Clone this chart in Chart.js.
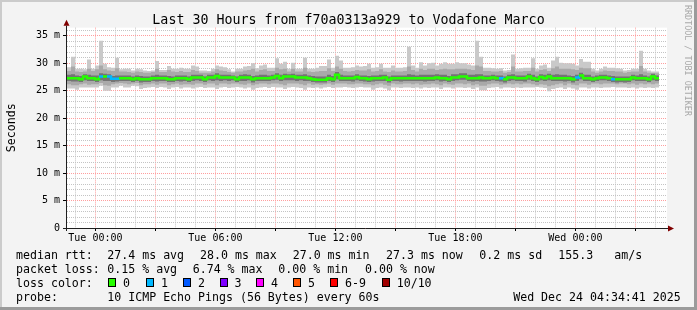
<!DOCTYPE html>
<html>
<head>
<meta charset="utf-8">
<script src="https://cdn.jsdelivr.net/npm/chart.js@4"></script>
<style>
  html, body { margin: 0; padding: 0; background: #f3f3f3; }
</style>
</head>
<body>
<canvas id="smoke" width="697" height="310"></canvas>
<script>
// time axis: hours relative to Tue 00:00, one sample every 12 minutes
const startHour = -1.42;
const stepHours = 0.2;
const spanHours = 30;

const tickHours = [0, 6, 12, 18, 24];
const tickLabels = ['Tue 00:00', 'Tue 06:00', 'Tue 12:00', 'Tue 18:00', 'Wed 00:00'];

// smoke: highest ping per step (ms)
const pingMax = [
  29.3, 31.2, 29.0, 29.0, 28.9, 30.7, 29.0, 29.6, 34.1, 29.9,
  29.3, 29.2, 31.0, 28.9, 29.0, 29.0, 28.7, 29.0, 28.9, 28.7,
  28.6, 28.7, 30.4, 28.8, 28.8, 29.5, 29.0, 29.0, 29.2, 29.0,
  29.0, 29.6, 29.4, 28.7, 28.7, 28.6, 29.0, 29.6, 29.4, 29.3,
  28.9, 28.5, 29.0, 29.0, 29.4, 29.5, 30.0, 29.1, 29.6, 29.8,
  29.2, 29.2, 30.9, 29.9, 30.3, 29.0, 30.1, 29.0, 29.0, 31.0,
  29.0, 29.0, 29.2, 29.5, 29.5, 30.7, 29.2, 31.4, 30.5, 29.2,
  29.2, 29.3, 29.6, 29.4, 29.5, 29.9, 29.2, 29.3, 29.9, 29.2,
  29.2, 29.6, 29.2, 29.2, 29.3, 33.0, 29.6, 29.2, 30.2, 29.6,
  30.0, 30.1, 29.6, 29.9, 30.2, 29.9, 29.9, 30.2, 30.0, 30.0,
  29.8, 29.6, 34.1, 31.2, 29.2, 29.2, 29.1, 29.0, 29.1, 28.7,
  28.8, 31.6, 29.0, 29.1, 29.2, 29.2, 30.9, 29.0, 29.6, 29.8,
  29.2, 30.5, 31.2, 30.1, 30.0, 30.0, 29.9, 29.6, 30.8, 30.3,
  30.3, 29.0, 28.7, 29.0, 29.4, 29.2, 29.2, 29.1, 29.0, 28.7,
  28.8, 29.0, 29.0, 32.3, 29.0, 28.7, 28.5, 28.5
];

// smoke: lowest ping per step (ms)
const pingMin = [
  25.4, 25.4, 25.2, 25.6, 25.6, 25.6, 25.6, 25.6, 25.9, 25.0,
  25.0, 25.6, 25.6, 25.9, 25.6, 25.6, 25.9, 25.8, 25.3, 25.5,
  25.6, 25.7, 25.5, 25.7, 25.6, 25.3, 25.6, 25.7, 25.4, 25.6,
  25.6, 25.4, 25.6, 25.7, 25.5, 25.6, 25.6, 25.3, 25.6, 25.7,
  25.5, 25.6, 25.7, 25.6, 25.4, 25.6, 25.2, 25.5, 25.6, 25.7,
  25.5, 25.7, 25.6, 25.6, 25.3, 25.6, 25.7, 25.6, 25.5, 25.2,
  25.6, 25.5, 25.6, 25.4, 25.6, 25.7, 25.5, 25.6, 25.6, 25.7,
  25.6, 25.5, 25.6, 25.7, 25.6, 25.6, 25.2, 25.5, 25.6, 25.4,
  25.1, 25.6, 25.6, 25.5, 25.6, 25.6, 25.5, 25.6, 25.4, 25.6,
  25.5, 25.6, 25.6, 25.3, 25.6, 25.6, 25.4, 25.6, 25.6, 25.5,
  25.6, 25.3, 25.6, 25.1, 25.1, 25.5, 25.6, 25.7, 25.4, 25.6,
  25.6, 25.5, 25.6, 25.5, 25.6, 25.6, 25.6, 25.7, 25.6, 25.5,
  24.9, 25.3, 25.5, 25.6, 25.3, 25.6, 25.4, 25.2, 25.6, 25.6,
  25.4, 25.6, 25.6, 25.5, 25.6, 25.6, 25.7, 25.6, 25.6, 25.6,
  25.5, 25.6, 25.4, 25.6, 25.5, 25.6, 25.5, 25.6
];

// smoke: outer ping ranks (2nd highest / 2nd lowest)
const midHigh = [
  28.6, 29.4, 28.5, 28.4, 28.5, 29.0, 28.6, 28.9, 29.6, 28.9,
  28.7, 28.6, 29.1, 28.5, 28.5, 28.4, 28.3, 28.5, 28.4, 28.3,
  28.3, 28.4, 29.0, 28.4, 28.4, 28.8, 28.5, 28.4, 28.6, 28.4,
  28.4, 28.8, 28.6, 28.3, 28.3, 28.3, 28.5, 28.9, 28.7, 28.6,
  28.4, 28.3, 28.5, 28.5, 28.7, 28.8, 29.0, 28.5, 28.8, 28.9,
  28.6, 28.6, 29.2, 28.9, 29.0, 28.5, 29.0, 28.5, 28.5, 29.2,
  28.5, 28.4, 28.5, 28.6, 28.6, 29.1, 28.6, 29.4, 29.0, 28.6,
  28.5, 28.6, 28.8, 28.7, 28.7, 28.9, 28.5, 28.6, 28.9, 28.5,
  28.4, 28.7, 28.5, 28.5, 28.6, 29.4, 28.8, 28.5, 29.0, 28.8,
  29.0, 29.0, 28.8, 28.9, 29.0, 28.9, 28.9, 29.0, 29.0, 29.0,
  28.9, 28.8, 29.6, 29.4, 28.6, 28.6, 28.5, 28.5, 28.6, 28.3,
  28.4, 29.4, 28.5, 28.5, 28.6, 28.6, 29.2, 28.5, 28.8, 28.9,
  28.6, 29.1, 29.4, 29.0, 29.0, 29.0, 28.9, 28.8, 29.2, 29.1,
  29.1, 28.5, 28.3, 28.5, 28.7, 28.6, 28.6, 28.5, 28.5, 28.3,
  28.4, 28.5, 28.5, 29.5, 28.5, 28.3, 28.2, 28.2
];
const midLow = [
  26.2, 26.0, 26.0, 26.2, 26.3, 26.1, 26.2, 26.2, 26.4, 26.0,
  25.9, 26.2, 26.3, 26.4, 26.3, 26.2, 26.3, 26.4, 26.0, 26.2,
  26.2, 26.3, 26.1, 26.3, 26.3, 26.0, 26.2, 26.3, 26.1, 26.2,
  26.2, 26.1, 26.3, 26.3, 26.1, 26.3, 26.3, 26.0, 26.3, 26.3,
  26.2, 26.3, 26.3, 26.2, 26.1, 26.3, 26.0, 26.2, 26.3, 26.3,
  26.2, 26.3, 26.3, 26.2, 26.0, 26.3, 26.3, 26.3, 26.2, 26.0,
  26.3, 26.1, 26.2, 26.1, 26.2, 26.3, 26.1, 26.3, 26.3, 26.3,
  26.2, 26.2, 26.3, 26.3, 26.2, 26.2, 26.0, 26.2, 26.3, 26.1,
  25.9, 26.3, 26.2, 26.2, 26.3, 26.3, 26.2, 26.3, 26.1, 26.2,
  26.2, 26.3, 26.2, 26.0, 26.3, 26.2, 26.1, 26.3, 26.3, 26.2,
  26.3, 26.0, 26.2, 25.9, 25.9, 26.2, 26.3, 26.3, 26.1, 26.2,
  26.3, 26.2, 26.3, 26.2, 26.3, 26.3, 26.2, 26.0, 26.2, 26.1,
  25.8, 26.0, 26.2, 26.3, 26.0, 26.3, 26.1, 26.0, 26.3, 26.3,
  26.1, 26.3, 26.3, 26.2, 26.3, 26.3, 26.3, 26.2, 26.3, 26.3,
  26.2, 26.3, 26.1, 26.3, 26.2, 26.3, 26.2, 26.3
];

// smoke: inner ping ranks around the median
const coreHigh = [
  27.9, 28.0, 27.8, 27.7, 28.0, 27.9, 27.8, 27.8, 28.2, 28.1,
  28.0, 27.7, 27.8, 27.8, 27.8, 27.8, 27.6, 27.8, 27.7, 27.6,
  27.6, 27.8, 27.9, 27.8, 27.8, 27.7, 27.6, 27.8, 27.8, 27.8,
  27.6, 27.9, 27.9, 27.9, 27.6, 27.9, 27.9, 28.2, 27.9, 27.9,
  27.9, 27.8, 27.6, 27.9, 28.0, 27.9, 27.7, 27.8, 27.9, 27.9,
  27.8, 27.9, 28.2, 27.9, 28.1, 28.0, 28.1, 27.9, 27.9, 28.0,
  27.8, 27.7, 27.6, 27.6, 27.6, 27.9, 27.7, 28.4, 27.9, 27.8,
  27.8, 27.8, 28.0, 27.8, 27.8, 27.7, 27.8, 27.8, 27.9, 27.9,
  27.6, 27.8, 27.8, 27.8, 27.8, 28.0, 27.9, 27.8, 27.9, 27.9,
  27.9, 27.9, 28.0, 27.9, 27.9, 27.7, 28.0, 28.0, 28.2, 28.2,
  27.9, 27.9, 28.0, 28.0, 27.8, 27.8, 27.9, 27.8, 27.8, 27.6,
  27.9, 28.0, 27.8, 27.8, 27.8, 28.1, 27.9, 27.6, 28.0, 27.9,
  28.1, 27.9, 28.0, 27.9, 27.9, 27.8, 27.7, 27.9, 28.3, 27.9,
  27.9, 27.6, 27.8, 27.9, 27.9, 27.8, 27.7, 27.6, 27.6, 27.6,
  27.6, 27.9, 27.8, 28.0, 27.8, 27.6, 28.1, 27.8
];
const coreLow = [
  26.8, 26.7, 26.7, 26.6, 26.9, 26.8, 26.8, 26.6, 26.9, 26.8,
  26.8, 26.6, 26.7, 26.8, 26.8, 26.8, 26.6, 26.8, 26.5, 26.6,
  26.6, 26.8, 26.7, 26.8, 26.8, 26.6, 26.6, 26.8, 26.7, 26.8,
  26.6, 26.8, 26.9, 26.8, 26.6, 26.9, 26.8, 26.9, 26.8, 26.9,
  26.8, 26.9, 26.6, 26.8, 26.8, 26.9, 26.5, 26.8, 26.8, 26.8,
  26.8, 26.9, 27.0, 26.8, 26.9, 26.9, 26.9, 26.8, 26.9, 26.8,
  26.8, 26.6, 26.5, 26.5, 26.5, 26.8, 26.6, 27.1, 26.8, 26.8,
  26.8, 26.7, 26.9, 26.8, 26.7, 26.6, 26.7, 26.8, 26.8, 26.8,
  26.5, 26.8, 26.8, 26.7, 26.8, 26.8, 26.8, 26.8, 26.8, 26.7,
  26.8, 26.8, 26.9, 26.7, 26.8, 26.6, 26.8, 26.9, 27.0, 27.0,
  26.8, 26.7, 26.8, 26.7, 26.7, 26.8, 26.9, 26.8, 26.7, 26.5,
  26.8, 26.9, 26.8, 26.8, 26.7, 27.0, 26.8, 26.6, 26.9, 26.8,
  26.9, 26.8, 26.8, 26.8, 26.7, 26.8, 26.5, 26.8, 27.1, 26.8,
  26.8, 26.6, 26.8, 26.9, 26.9, 26.8, 26.6, 26.5, 26.6, 26.5,
  26.6, 26.9, 26.8, 26.8, 26.8, 26.6, 26.9, 26.8
];

// median rtt per step (ms)
const medianRtt = [
  27.3, 27.3, 27.3, 27.1, 27.6, 27.3, 27.3, 27.1, 27.6, 27.6,
  27.6, 27.2, 27.2, 27.3, 27.3, 27.3, 27.1, 27.3, 27.1, 27.1,
  27.1, 27.3, 27.3, 27.3, 27.3, 27.1, 27.1, 27.3, 27.3, 27.3,
  27.1, 27.4, 27.4, 27.4, 27.1, 27.4, 27.4, 27.7, 27.4, 27.4,
  27.4, 27.4, 27.1, 27.4, 27.4, 27.4, 27.1, 27.3, 27.3, 27.3,
  27.3, 27.4, 27.7, 27.3, 27.6, 27.6, 27.6, 27.4, 27.4, 27.4,
  27.3, 27.1, 27.0, 27.0, 27.0, 27.3, 27.1, 27.9, 27.3, 27.3,
  27.3, 27.3, 27.5, 27.3, 27.3, 27.1, 27.3, 27.3, 27.3, 27.4,
  27.0, 27.3, 27.3, 27.3, 27.3, 27.3, 27.3, 27.3, 27.3, 27.3,
  27.3, 27.3, 27.4, 27.3, 27.3, 27.1, 27.4, 27.4, 27.6, 27.6,
  27.3, 27.3, 27.3, 27.4, 27.3, 27.3, 27.4, 27.3, 27.3, 27.1,
  27.4, 27.4, 27.3, 27.3, 27.3, 27.6, 27.3, 27.1, 27.5, 27.3,
  27.6, 27.3, 27.3, 27.3, 27.3, 27.3, 27.1, 27.4, 27.8, 27.3,
  27.3, 27.1, 27.3, 27.4, 27.4, 27.3, 27.1, 27.1, 27.1, 27.1,
  27.1, 27.4, 27.3, 27.3, 27.3, 27.1, 27.6, 27.3
];

// lost pings (of 10) per step
const lostPings = [
  0, 0, 0, 0, 0, 0, 0, 0, 1, 0, 1, 1, 1, 0, 0, 0, 0, 0, 0, 0,
  0, 0, 0, 0, 0, 0, 0, 0, 0, 0, 0, 0, 0, 0, 0, 0, 0, 0, 0, 0,
  0, 0, 0, 0, 0, 0, 0, 0, 0, 0, 0, 0, 0, 0, 0, 0, 0, 0, 0, 0,
  0, 0, 0, 0, 0, 0, 0, 0, 0, 0, 0, 0, 0, 0, 0, 0, 0, 0, 0, 0,
  0, 0, 0, 0, 0, 0, 0, 0, 0, 0, 0, 0, 0, 0, 0, 0, 0, 0, 0, 0,
  0, 0, 0, 0, 0, 0, 0, 0, 1, 0, 0, 0, 0, 0, 0, 0, 0, 0, 0, 0,
  0, 0, 0, 0, 0, 0, 0, 1, 0, 0, 0, 0, 0, 0, 0, 0, 1, 0, 0, 0,
  0, 0, 0, 0, 0, 0, 0, 0
];

const lossLabels = ['0', '1', '2', '3', '4', '5', '6-9', '10/10'];
const lossColors = ['#26ff00', '#00b8ff', '#0059ff', '#7e00ff', '#ff00ff', '#ff5500', '#ff0000', '#a10000'];

const rttStats = ['27.4 ms avg', '28.0 ms max', '27.0 ms min', '27.3 ms now', '0.2 ms sd', '155.3', 'am/s'];
const lossStats = ['0.15 % avg', '6.74 % max', '0.00 % min', '0.00 % now'];
const probeText = '10 ICMP Echo Pings (56 Bytes) every 60s';
const stampText = 'Wed Dec 24 04:34:41 2025';

function lossColor(n) {
  if (n <= 5) return lossColors[n];
  if (n < 10) return lossColors[6];
  return lossColors[7];
}

function stepSeries(values) {
  const pts = values.map((v, i) => ({ x: startHour + i * stepHours, y: v }));
  pts.push({ x: startHour + values.length * stepHours, y: values[values.length - 1] });
  return pts;
}

function band(values, fill, color, order) {
  return {
    data: stepSeries(values),
    stepped: true,
    fill: fill,
    backgroundColor: color,
    borderColor: 'rgba(0,0,0,0)',
    borderWidth: 0,
    pointRadius: 0,
    order: order
  };
}

const mono = 'DejaVu Sans Mono';

// background, frame, axes with arrows and the text legend below the plot
const rrdDecor = {
  id: 'rrdDecor',
  beforeDraw(chart) {
    const { ctx, chartArea: a } = chart;
    ctx.save();
    ctx.fillStyle = '#f3f3f3';
    ctx.fillRect(0, 0, chart.width, chart.height);
    ctx.fillStyle = '#ffffff';
    ctx.fillRect(a.left, a.top, a.right - a.left, a.bottom - a.top);
    ctx.restore();
  },
  afterDatasetsDraw(chart) {
    const { ctx, chartArea: a } = chart;
    ctx.save();
    ctx.strokeStyle = '#1e1e1e';
    ctx.lineWidth = 1;
    ctx.beginPath();
    ctx.moveTo(a.left - 0.5, a.bottom + 3);
    ctx.lineTo(a.left - 0.5, a.top - 2);
    ctx.moveTo(a.left - 4, a.bottom + 0.5);
    ctx.lineTo(a.right + 1, a.bottom + 0.5);
    ctx.stroke();
    ctx.fillStyle = '#800000';
    ctx.beginPath();
    ctx.moveTo(a.left - 0.5, a.top - 8);
    ctx.lineTo(a.left - 3.5, a.top - 2);
    ctx.lineTo(a.left + 2.5, a.top - 2);
    ctx.closePath();
    ctx.fill();
    ctx.beginPath();
    ctx.moveTo(a.right + 7, a.bottom + 0.5);
    ctx.lineTo(a.right + 1, a.bottom - 2.5);
    ctx.lineTo(a.right + 1, a.bottom + 3.5);
    ctx.closePath();
    ctx.fill();
    ctx.restore();
  },
  afterDraw(chart) {
    const { ctx } = chart;
    ctx.save();
    ctx.fillStyle = '#000';
    ctx.font = '11.6px "' + mono + '"';
    ctx.textBaseline = 'alphabetic';
    ctx.textAlign = 'left';

    const rttX = [107.3, 200, 292.7, 386, 479.3, 558.3, 614.3];
    ctx.fillText('median rtt:', 16, 258.8);
    rttStats.forEach((t, i) => ctx.fillText(t, rttX[i], 258.8));

    const lossX = [107.3, 192.7, 278.3, 365];
    ctx.fillText('packet loss:', 16, 272.8);
    lossStats.forEach((t, i) => ctx.fillText(t, lossX[i], 272.8));

    const boxX = [108, 146, 183, 219.5, 256, 293, 330, 381.7];
    ctx.fillText('loss color:', 16, 286.8);
    lossLabels.forEach((t, i) => {
      const bx = Math.round(boxX[i]);
      ctx.fillStyle = lossColors[i];
      ctx.fillRect(bx, 278, 8, 9);
      ctx.strokeStyle = '#000';
      ctx.lineWidth = 1;
      ctx.strokeRect(bx + 0.5, 278.5, 7, 8);
      ctx.fillStyle = '#000';
      ctx.fillText(t, boxX[i] + 15, 286.8);
    });

    ctx.fillText('probe:', 16, 300.8);
    ctx.fillText(probeText, 107.3, 300.8);
    ctx.textAlign = 'right';
    ctx.fillText(stampText, 680.7, 300.8);

    // vertical watermark on the right edge
    ctx.save();
    ctx.translate(687, 5);
    ctx.rotate(Math.PI / 2);
    ctx.textAlign = 'left';
    ctx.textBaseline = 'middle';
    ctx.fillStyle = '#a8a8a8';
    ctx.font = '8.4px "' + mono + '"';
    ctx.fillText('RRDTOOL / TOBI OETIKER', 0, 0);
    ctx.restore();

    // 3D frame
    ctx.fillStyle = '#cbcbcb';
    ctx.fillRect(0, 0, chart.width, 2);
    ctx.fillRect(0, 0, 2, chart.height);
    ctx.fillStyle = '#9b9b9b';
    ctx.fillRect(chart.width - 3, 0, 3, chart.height);
    ctx.fillRect(0, chart.height - 3, chart.width, 3);
    ctx.restore();
  }
};

new Chart(document.getElementById('smoke'), {
  type: 'line',
  data: {
    datasets: [
      band(pingMin, false, '#c9c9c9', 5),
      band(pingMax, '-1', '#c9c9c9', 5),
      band(midLow, false, '#a9a9a9', 3),
      band(midHigh, '-1', '#a9a9a9', 3),
      band(coreLow, false, '#747474', 1),
      band(coreHigh, '-1', '#747474', 1),
      {
        data: stepSeries(medianRtt),
        stepped: true,
        fill: false,
        borderWidth: 2.5,
        borderColor: lossColors[0],
        pointRadius: 0,
        order: 0,
        segment: {
          borderColor: c => lossColor(lostPings[c.p0DataIndex] || 0)
        }
      }
    ]
  },
  options: {
    responsive: false,
    devicePixelRatio: 1,
    animation: false,
    events: [],
    layout: { padding: 0 },
    plugins: {
      legend: { display: false },
      tooltip: { enabled: false },
      title: {
        display: true,
        text: 'Last 30 Hours from f70a0313a929 to Vodafone Marco',
        color: '#000',
        font: { family: mono, size: 13.3, weight: 'normal', lineHeight: 1.1 },
        padding: { top: 13, bottom: 0 }
      }
    },
    scales: {
      x: {
        type: 'linear',
        min: startHour,
        max: startHour + spanHours,
        afterBuildTicks: s => {
          const t = [];
          for (let h = Math.ceil(startHour); h <= startHour + spanHours; h++) t.push({ value: h });
          s.ticks = t;
        },
        afterFit: s => {
          s.height = 82;
          s.paddingLeft = 0;
          s.paddingRight = 0;
        },
        border: { display: false, dash: [1, 1] },
        grid: {
          color: c => (c.tick && c.tick.value % 3 === 0) ? '#ff9e9e' : '#c4c4c4',
          tickColor: c => (c.tick && c.tick.value % 3 === 0) ? '#000' : 'rgba(0,0,0,0)',
          tickLength: 3,
          lineWidth: 1
        },
        ticks: {
          autoSkip: false,
          maxRotation: 0,
          padding: 1,
          color: '#000',
          font: { family: mono, size: 10 },
          callback: v => {
            const k = tickHours.indexOf(v);
            return k >= 0 ? tickLabels[k] : '';
          }
        }
      },
      y: {
        type: 'linear',
        min: 0,
        max: 36.5,
        afterBuildTicks: s => {
          const t = [];
          for (let v = 0; v <= 36; v++) t.push({ value: v });
          s.ticks = t;
        },
        afterFit: s => {
          s.width = 67;
          s.paddingTop = 0;
          s.paddingBottom = 0;
        },
        border: { display: false, dash: [1, 1] },
        grid: {
          color: c => (c.tick && c.tick.value % 5 === 0) ? '#ff9e9e' : '#c4c4c4',
          tickColor: c => (c.tick && c.tick.value % 5 === 0) ? '#000' : 'rgba(0,0,0,0)',
          tickLength: 4,
          lineWidth: 1
        },
        ticks: {
          autoSkip: false,
          padding: 3,
          color: '#000',
          font: { family: mono, size: 10 },
          callback: v => v % 5 !== 0 ? '' : (v === 0 ? '0' : v + ' m')
        },
        title: {
          display: true,
          text: 'Seconds',
          color: '#000',
          font: { family: mono, size: 11.6 },
          padding: { top: 5, bottom: 0 }
        }
      },
      // empty right-hand strip holding the watermark
      yRight: {
        type: 'linear',
        position: 'right',
        display: true,
        afterFit: s => {
          s.width = 30;
          s.paddingTop = 0;
          s.paddingBottom = 0;
        },
        border: { display: false },
        grid: { display: false },
        ticks: { display: false }
      }
    }
  },
  plugins: [rrdDecor]
});
</script>
</body>
</html>
